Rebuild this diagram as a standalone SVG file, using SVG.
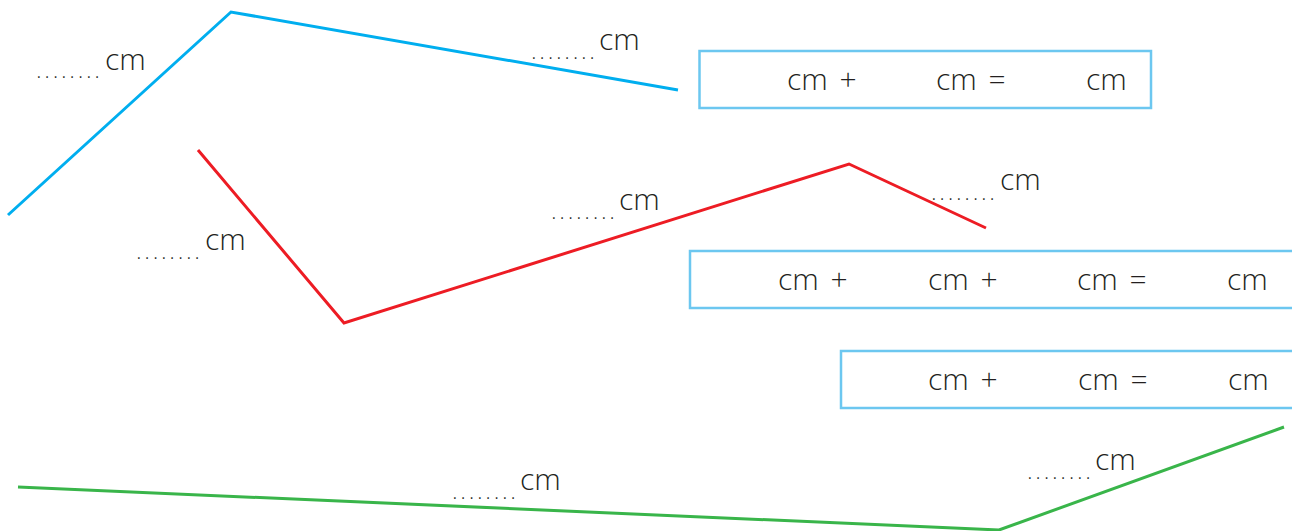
<svg xmlns="http://www.w3.org/2000/svg" width="1292" height="531" viewBox="0 0 1292 531">
<style>
.ln{fill:none;stroke-width:3;stroke-linejoin:miter}
.t{font-family:"Open Sans","Liberation Sans",sans-serif;font-weight:300;font-size:30px;fill:#231f20;word-spacing:4px}
.d{font-family:"Open Sans","Liberation Sans",sans-serif;font-size:14px;fill:#231f20}
.box{fill:#fff;stroke:#6cc7f0;stroke-width:2.5}
</style>
<rect width="1292" height="531" fill="#fff"/>
<g id="connectors">
<polyline class="ln" stroke="#00aeef" points="8,215 231,12 678,90"/>
<polyline class="ln" stroke="#ed1c24" points="198,150 344,323 849,164 986,228"/>
<polyline class="ln" stroke="#39b54a" points="18,487 999,530 1284,427"/>
</g>
<g id="label-blue-1"><text class="d" x="37" y="78" textLength="62" lengthAdjust="spacing">........</text><text class="t" x="105" y="70">cm</text></g>
<g id="label-blue-2"><text class="d" x="532" y="59" textLength="62" lengthAdjust="spacing">........</text><text class="t" x="599" y="50">cm</text></g>
<g id="label-red-1"><text class="d" x="137" y="259" textLength="62" lengthAdjust="spacing">........</text><text class="t" x="205" y="250">cm</text></g>
<g id="label-red-2"><text class="d" x="552" y="219" textLength="62" lengthAdjust="spacing">........</text><text class="t" x="619" y="210">cm</text></g>
<g id="label-red-3"><text class="d" x="932" y="200" textLength="62" lengthAdjust="spacing">........</text><text class="t" x="1000" y="190">cm</text></g>
<g id="label-green-1"><text class="d" x="453" y="499" textLength="62" lengthAdjust="spacing">........</text><text class="t" x="520" y="490">cm</text></g>
<g id="label-green-2"><text class="d" x="1028" y="479" textLength="62" lengthAdjust="spacing">........</text><text class="t" x="1095" y="470">cm</text></g>
<g id="box-1">
<rect class="box" x="699.5" y="51" width="451.5" height="57"/>
<text class="t" x="787" y="90">cm +</text>
<text class="t" x="936" y="90">cm =</text>
<text class="t" x="1086" y="90">cm</text>
</g>
<g id="box-2">
<rect class="box" x="690" y="251" width="606" height="57"/>
<text class="t" x="778" y="290">cm +</text>
<text class="t" x="928" y="290">cm +</text>
<text class="t" x="1077" y="290">cm =</text>
<text class="t" x="1227" y="290">cm</text>
</g>
<g id="box-3">
<rect class="box" x="841" y="351" width="455" height="57"/>
<text class="t" x="928" y="390">cm +</text>
<text class="t" x="1078" y="390">cm =</text>
<text class="t" x="1228" y="390">cm</text>
</g>
</svg>
